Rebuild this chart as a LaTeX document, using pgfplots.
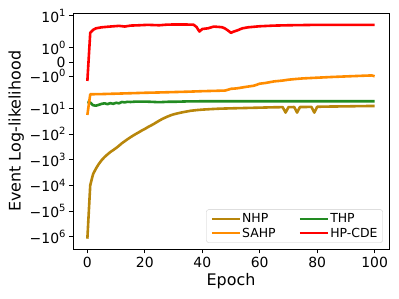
\documentclass[border=0pt]{standalone}
\usepackage{fontspec}
\setmainfont{DejaVu Sans}
\usepackage{pgfplots}
\usepackage{pgfplotstable}
\pgfplotsset{compat=1.18}
\definecolor{cNHP}{RGB}{184,134,11}
\definecolor{cSAHP}{RGB}{255,140,0}
\definecolor{cTHP}{RGB}{34,139,34}
\definecolor{cHP}{RGB}{255,0,0}
\definecolor{legframe}{RGB}{204,204,204}
\newcommand\sx[1]{\raisebox{0.42em}{\fontsize{10}{10}\selectfont #1}}

\pgfplotstableread{
epoch val
0 -1200000
1 -9800
2 -3600
3 -2200
4 -1450
5 -1030
6 -780
7 -620
8 -500
9 -420
10 -350
11 -285
12 -228
13 -190
14 -158
15 -133
16 -113
17 -97
18 -84
19 -72
20 -63
21 -54
22 -47
23 -41
24 -35
25 -30
26 -26
27 -23
28 -20.5
29 -18.5
30 -17
32 -15
34 -13.5
36 -12.3
38 -11.6
40 -11.1
43 -10.6
46 -10.2
50 -9.9
55 -9.6
60 -9.3
65 -9.0
68 -8.9
69 -14.5
70 -8.9
72 -8.8
73 -14.5
74 -8.8
78 -8.7
79 -14.5
80 -8.6
85 -8.4
90 -8.3
95 -8.1
100 -8.0
}\nhp

\pgfplotstableread{
epoch val
0 -18
1 -2.8
5 -2.75
10 -2.65
15 -2.55
20 -2.45
25 -2.38
30 -2.3
35 -2.22
40 -2.12
45 -2.05
48 -2.0
50 -1.88
52 -1.85
55 -1.75
58 -1.66
60 -1.52
62 -1.47
65 -1.36
68 -1.3
70 -1.24
72 -1.2
75 -1.15
78 -1.12
80 -1.10
85 -1.05
90 -1.01
95 -0.97
99 -0.94
100 -1.0
}\sahp

\pgfplotstableread{
epoch val
0 -5.6
1 -5.9
2 -7.5
3 -7.8
4 -7.2
5 -6.6
6 -6.3
7 -6.8
8 -6.2
9 -6.6
10 -6.0
11 -6.3
12 -5.6
13 -5.8
14 -5.5
15 -5.6
17 -5.4
20 -5.4
22 -5.5
25 -5.7
28 -5.5
30 -5.5
35 -5.3
40 -5.25
50 -5.25
60 -5.25
70 -5.25
80 -5.25
90 -5.25
100 -5.25
}\thp

\pgfplotstableread{
epoch val
0 -1.33
1 2.13
2 2.78
3 3.2
5 3.5
8 3.75
11 3.98
13 3.75
15 4.08
18 4.2
21 4.36
25 4.2
28 4.47
32 4.5
36 4.47
37 4.4
38 3.6
39 2.4
40 3.0
42 3.2
44 3.73
46 3.6
47 3.5
48 3.1
49 2.6
50 2.13
51 2.4
52 2.6
54 3.2
56 3.5
60 3.84
65 4.08
70 4.2
80 4.36
100 4.36
}\hpcde

\begin{document}
\begin{tikzpicture}
\begin{axis}[
  name=ax,
  scale only axis, width=316bp, height=236bp,
  y coord trafo/.code={\begingroup\pgfkeys{/pgf/fpu=true,/pgf/fpu/output format=fixed}\pgfmathparse{(abs(#1)<=2) ? (#1*0.555556) : ((#1<0 ? -1 : 1)*(1.111111+log10(max(abs(#1),2)/2)))}\pgfmathsmuggle\pgfmathresult\endgroup},
  xmin=-5, xmax=105,
  ymin=-3100000, ymax=12.3,
  xtick={0,20,40,60,80,100},
  ytick={10,1,0,-1,-10,-100,-1000,-10000,-100000,-1000000},
  yticklabels={10\sx{1},10\sx{0},0,−10\sx{0},−10\sx{1},−10\sx{2},−10\sx{3},−10\sx{4},−10\sx{5},−10\sx{6}},
  tick align=outside, tick pos=left, major tick length=4bp,
  tick style={black, line width=0.8bp},
  axis line style={line width=0.8bp},
  ticklabel style={font=\fontsize{14}{14}\selectfont},
  /pgf/number format/assume math mode=true,
  xlabel={Epoch}, ylabel={Event Log-likelihood},
  label style={font=\fontsize{16}{16}\selectfont},
  xlabel style={at={(axis description cs:0.5,-0.1555)}, anchor=base},
  ylabel style={at={(axis description cs:-0.18,0.5)}, anchor=center},
  legend columns=2,
  legend cell align=left,
  legend style={at={(1,0)}, anchor=south east, xshift=-6.3bp, yshift=6.6bp,
    font=\fontsize{12.5}{12.5}\selectfont, draw=legframe, rounded corners=2bp,
    inner xsep=4bp, inner ysep=3bp, row sep=1.5bp,
    /tikz/every even column/.append style={column sep=22bp},
    nodes={inner sep=1bp}},
  legend image code/.code={\draw[#1, line width=2.6bp] (0bp,0bp) -- (28bp,0bp);},
  every axis plot/.append style={line width=2.6bp, line join=round, no markers},
]
\addplot[cNHP] table[x=epoch, y=val] {\nhp};
\addlegendentry{NHP}
\addplot[cTHP] table[x=epoch, y=val] {\thp};
\addlegendentry{THP}
\addplot[cSAHP] table[x=epoch, y=val] {\sahp};
\addlegendentry{SAHP}
\addplot[cHP] table[x=epoch, y=val] {\hpcde};
\addlegendentry{HP-CDE}
\end{axis}
\pgfresetboundingbox
\path (ax.south west) ++(-73bp,-49.7bp) rectangle ++(399bp,299bp);
\end{tikzpicture}
\end{document}
